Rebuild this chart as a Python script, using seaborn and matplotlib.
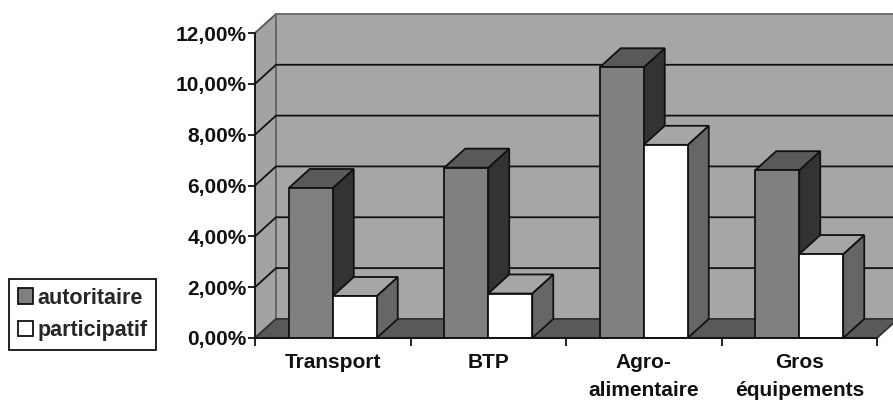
import matplotlib
matplotlib.use("Agg")
import matplotlib.pyplot as plt
from matplotlib.patches import Polygon
import pandas as pd
import seaborn as sns

categories = ["Transport", "BTP", "Agro-\nalimentaire", "Gros\néquipements"]
autoritaire = [5.9, 6.7, 10.65, 6.6]
participatif = [1.65, 1.75, 7.6, 3.3]
y_ticks = [0, 2, 4, 6, 8, 10, 12]

# 3d depth in data units
DX = 0.135
DY = 0.75

sns.set_theme(style="white")
plt.rcParams["font.family"] = ["Liberation Sans", "DejaVu Sans"]

df = pd.DataFrame({
    "categorie": categories * 2,
    "valeur": autoritaire + participatif,
    "style": ["autoritaire"] * 4 + ["participatif"] * 4,
})

fig = plt.figure(figsize=(8.93, 4.0), dpi=100)
ax = fig.add_axes([255 / 893, 62 / 400, 622 / 893, 305 / 400])

sns.barplot(data=df, x="categorie", y="valeur", hue="style", order=categories,
            hue_order=["autoritaire", "participatif"],
            palette={"autoritaire": "#808080", "participatif": "#ffffff"},
            width=0.566, gap=0, edgecolor="#111111", linewidth=1.3, legend=False,
            errorbar=None, saturation=1, ax=ax)
ax.set_xlim(-0.5, 3.5)
ax.set_ylim(0, 12)


def poly(points, color, z, edge="#111111", lw=1.3):
    ax.add_patch(Polygon(points, closed=True, facecolor=color, edgecolor=edge,
                         linewidth=lw, zorder=z, clip_on=False))


# walls and floor
poly([(-0.5, 0), (-0.5 + DX, DY), (-0.5 + DX, 12 + DY), (-0.5, 12)], "#a3a3a3", 1, "#555555")
poly([(-0.5 + DX, DY), (3.5 + DX, DY), (3.5 + DX, 12 + DY), (-0.5 + DX, 12 + DY)], "#a6a6a6", 1, "#666666")
poly([(-0.5, 0), (3.5, 0), (3.5 + DX, DY), (-0.5 + DX, DY)], "#595959", 2, "#333333")

for v in y_ticks[1:-1]:
    ax.plot([-0.5, -0.5 + DX, 3.5 + DX], [v, v + DY, v + DY], color="#111111", lw=1.3,
            zorder=2, clip_on=False)

# sides and tops of the bars, built on the seaborn bars
side_colors = {0: ("#333333", "#595959"), 1: ("#666666", "#a6a6a6")}
for i, container in enumerate(ax.containers):
    side, top = side_colors[i]
    for bar in container:
        x0 = bar.get_x()
        x1 = x0 + bar.get_width()
        h = bar.get_height()
        z = 3 + i * 2
        poly([(x1, 0), (x1 + DX, DY), (x1 + DX, h + DY), (x1, h)], side, z)
        poly([(x0, h), (x1, h), (x1 + DX, h + DY), (x0 + DX, h + DY)], top, z)
        bar.set_zorder(z + 1)

ax.set_yticks(y_ticks, [f"{v:.2f}%".replace(".", ",") for v in y_ticks],
              fontsize=15, fontweight="bold", color="#111111")
ax.set_xticks(range(4), categories, fontsize=15, fontweight="bold", color="#111111",
              linespacing=1.6, va="top")
ax.set_xticks([-0.5, 0.5, 1.5, 2.5, 3.5], minor=True)
ax.tick_params(axis="y", which="major", left=True, length=5, width=1.3, color="#111111", pad=1)
ax.tick_params(axis="x", which="major", bottom=False, pad=5)
ax.tick_params(axis="x", which="minor", bottom=True, length=6, width=1.3, color="#111111")
ax.set_xlabel("")
ax.set_ylabel("")
sns.despine(ax=ax, top=True, right=True)
ax.spines["left"].set_color("#111111")
ax.spines["bottom"].set_color("#111111")
ax.spines["left"].set_zorder(10)
ax.spines["bottom"].set_zorder(10)

legend_bars = [ax.containers[0][0], ax.containers[1][0]]
leg = fig.legend(legend_bars, ["autoritaire", "participatif"], loc="lower left",
                 bbox_to_anchor=(9 / 893, 50 / 400), borderaxespad=0, fancybox=False,
                 framealpha=1, edgecolor="#111111", handlelength=0.7, handleheight=0.7,
                 handletextpad=0.23, labelspacing=0.55, borderpad=0.4,
                 prop={"size": 15.5, "weight": "bold"})
leg.get_frame().set_linewidth(1.3)

fig.savefig("out.png", dpi=100)
